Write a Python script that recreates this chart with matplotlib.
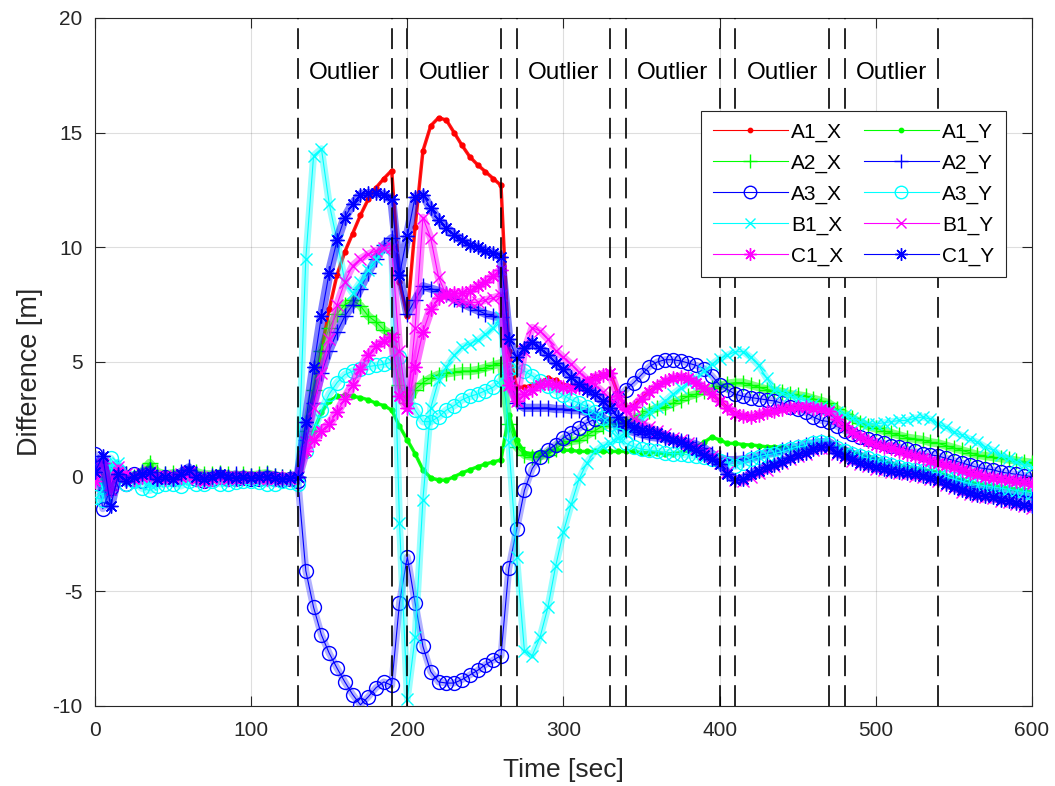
import numpy as np
import matplotlib
matplotlib.use("Agg")
import matplotlib.pyplot as plt

plt.rcParams['font.family'] = ['Liberation Sans', 'DejaVu Sans']
plt.rcParams['lines.scale_dashes'] = False
plt.rcParams['axes.unicode_minus'] = False

# ---------------- data ----------------
time_s = np.arange(0, 601, 5)

A1_X = [0.3, -0.4, 0.2, 0.1, -0.2, 0.0, 0.1, 0.05, 0.0, 0.1,
        0.05, 0.0, 0.1, 0.0, -0.05, 0.0, 0.05, 0.0, -0.05, -0.05,
        0.0, -0.05, -0.05, -0.1, -0.05, -0.05, 0.0, 1.8, 3.7, 5.5,
        7.3, 8.8, 9.8, 10.6, 11.4, 12.1, 12.6, 13.0, 13.35, 8.5,
        7.0, 10.9, 14.2, 15.3, 15.65, 15.55, 15.0, 14.45, 13.95, 13.6,
        13.3, 13.0, 12.7, 5.5, 3.9, 3.9, 4.0, 4.1, 4.3, 4.2,
        4.0, 3.95, 4.0, 4.15, 4.35, 4.45, 4.5, 3.6, 3.0, 3.1,
        3.4, 3.7, 3.95, 4.15, 4.3, 4.35, 4.3, 4.1, 3.85, 3.6,
        3.3, 3.0, 2.75, 2.65, 2.6, 2.7, 2.8, 2.85, 2.95, 3.0,
        3.05, 3.05, 3.0, 2.95, 2.85, 2.5, 2.2, 1.95, 1.75, 1.55,
        1.4, 1.3, 1.25, 1.1, 1.0, 0.9, 0.8, 0.7, 0.58, 0.5,
        0.4, 0.3, 0.18, 0.1, 0.0, -0.05, -0.1, -0.15, -0.2, -0.25,
        -0.3]

A1_Y = [0.2, -0.3, 0.1, 0.3, 0.0, 0.1, 0.2, 0.5, 0.1, 0.0,
        0.1, 0.0, 0.2, 0.1, 0.0, 0.05, 0.1, 0.05, 0.0, 0.05,
        0.0, 0.05, 0.1, 0.0, 0.0, -0.05, 0.0, 1.0, 2.0, 2.8,
        3.3, 3.5, 3.55, 3.5, 3.45, 3.35, 3.2, 3.1, 2.9, 2.2,
        1.6, 1.0, 0.3, -0.05, -0.15, -0.15, 0.0, 0.16, 0.3, 0.43,
        0.55, 0.64, 0.73, 2.7, 1.6, 1.05, 1.0, 1.05, 1.1, 1.15,
        1.15, 1.15, 1.1, 1.1, 1.1, 1.1, 1.1, 1.1, 1.1, 1.1,
        1.05, 1.05, 1.05, 1.0, 1.0, 1.05, 1.15, 1.3, 1.5, 1.73,
        1.6, 1.45, 1.45, 1.4, 1.38, 1.35, 1.3, 1.3, 1.28, 1.25,
        1.25, 1.3, 1.35, 1.4, 1.45, 1.3, 1.15, 1.05, 0.95, 0.85,
        0.75, 0.65, 0.55, 0.45, 0.4, 0.35, 0.3, 0.25, 0.2, 0.05,
        -0.05, -0.15, -0.25, -0.3, -0.35, -0.4, -0.45, -0.5, -0.55, -0.6,
        -0.65]

A2_X = [0.1, -0.2, 0.3, 0.2, 0.1, 0.0, 0.2, 0.6, 0.2, 0.1,
        0.15, 0.1, 0.3, 0.2, 0.1, 0.1, 0.15, 0.1, 0.05, 0.1,
        0.05, 0.1, 0.15, 0.05, 0.0, 0.0, 0.0, 2.0, 3.8, 5.5,
        6.5, 7.1, 7.5, 7.7, 7.45, 7.0, 6.75, 6.4, 6.2, 4.0,
        3.2, 3.8, 4.1, 4.3, 4.45, 4.5, 4.55, 4.6, 4.6, 4.65,
        4.75, 4.85, 4.95, 2.3, 1.3, 0.95, 0.86, 0.9, 0.95, 1.2,
        1.45, 1.55, 1.6, 1.8, 2.0, 2.2, 2.3, 2.35, 2.4, 2.5,
        2.7, 2.85, 3.0, 3.05, 3.2, 3.35, 3.5, 3.6, 3.75, 3.85,
        3.95, 4.05, 4.1, 4.1, 4.0, 3.9, 3.8, 3.75, 3.7, 3.6,
        3.55, 3.5, 3.4, 3.3, 3.2, 2.95, 2.75, 2.55, 2.35, 2.2,
        2.1, 2.0, 1.9, 1.8, 1.7, 1.65, 1.6, 1.5, 1.45, 1.35,
        1.25, 1.15, 1.05, 0.95, 0.9, 0.85, 0.8, 0.75, 0.7, 0.65,
        0.6]

A2_Y = [0.5, -0.6, 0.0, 0.4, 0.1, -0.1, 0.2, 0.3, 0.0, 0.1,
        0.0, 0.2, 0.4, 0.1, 0.0, 0.05, 0.1, 0.0, 0.1, 0.0,
        0.05, 0.0, 0.1, 0.05, 0.0, -0.05, 0.0, 1.6, 3.2, 4.5,
        5.5, 6.3, 7.0, 7.5, 8.2, 8.9, 9.5, 10.1, 10.4, 8.8,
        7.1, 7.7, 8.3, 8.2, 8.1, 7.95, 7.75, 7.55, 7.4, 7.25,
        7.1, 7.0, 6.95, 4.5, 3.2, 3.0, 3.0, 3.0, 3.0, 2.95,
        2.95, 2.9, 2.9, 2.8, 2.7, 2.55, 2.4, 2.2, 2.05, 1.95,
        1.85, 1.75, 1.7, 1.65, 1.6, 1.55, 1.5, 1.4, 1.25, 1.0,
        0.8, 0.72, 0.72, 0.75, 0.8, 0.9, 1.0, 1.05, 1.15, 1.25,
        1.3, 1.4, 1.45, 1.5, 1.5, 1.3, 1.15, 1.0, 0.9, 0.8,
        0.7, 0.6, 0.5, 0.4, 0.35, 0.3, 0.2, 0.1, 0.0, -0.1,
        -0.2, -0.3, -0.4, -0.5, -0.55, -0.6, -0.7, -0.75, -0.8, -0.85,
        -0.9]

A3_X = [1.0, -1.4, -0.5, 0.2, -0.3, 0.1, -0.2, 0.0, -0.1, 0.0,
        -0.1, 0.0, 0.1, -0.1, -0.2, -0.1, 0.0, -0.1, -0.1, -0.05,
        -0.1, -0.1, -0.05, -0.1, -0.15, -0.1, -0.2, -4.1, -5.7, -6.9,
        -7.7, -8.35, -8.95, -9.5, -9.95, -9.6, -9.2, -8.95, -9.1, -5.5,
        -3.5, -5.5, -7.4, -8.5, -8.95, -9.0, -9.0, -8.85, -8.65, -8.45,
        -8.2, -8.0, -7.8, -4.0, -2.3, -0.6, 0.35, 0.85, 1.15, 1.4,
        1.7, 1.9, 2.1, 2.35, 2.5, 2.75, 3.1, 3.45, 3.8, 4.1,
        4.45, 4.8, 5.0, 5.1, 5.1, 5.05, 4.95, 4.85, 4.7, 4.4,
        4.0, 3.8, 3.6, 3.5, 3.45, 3.4, 3.35, 3.3, 3.2, 3.05,
        2.95, 2.8, 2.6, 2.45, 2.4, 2.2, 2.0, 1.85, 1.75, 1.65,
        1.55, 1.45, 1.35, 1.3, 1.2, 1.1, 1.0, 0.95, 0.9, 0.8,
        0.7, 0.6, 0.5, 0.4, 0.35, 0.3, 0.2, 0.15, 0.1, 0.05,
        0.0]

A3_Y = [-0.9, -1.0, 0.8, 0.3, -0.3, -0.2, -0.5, -0.6, -0.4, -0.3,
        -0.3, -0.4, -0.2, -0.3, -0.3, -0.2, -0.3, -0.3, -0.25, -0.2,
        -0.2, -0.25, -0.3, -0.3, -0.2, -0.25, -0.3, 1.1, 2.0, 2.9,
        3.6, 4.1, 4.45, 4.6, 4.7, 4.8, 4.85, 4.9, 5.0, 5.2,
        3.6, 2.9, 2.4, 2.4, 2.6, 2.9, 3.1, 3.35, 3.5, 3.6,
        3.75, 3.9, 4.2, 4.7, 4.8, 4.6, 4.4, 4.15, 3.95, 3.75,
        3.55, 3.35, 3.2, 3.05, 2.8, 2.55, 2.3, 1.8, 1.45, 1.3,
        1.2, 1.15, 1.1, 1.05, 1.0, 1.0, 0.95, 0.9, 0.85, 0.75,
        0.7, 0.55, 0.45, 0.6, 0.75, 0.85, 0.95, 1.0, 1.1, 1.2,
        1.3, 1.35, 1.45, 1.5, 1.45, 1.25, 1.1, 1.0, 0.9, 0.8,
        0.7, 0.6, 0.5, 0.4, 0.35, 0.3, 0.25, 0.2, 0.15, 0.0,
        -0.1, -0.2, -0.3, -0.35, -0.4, -0.45, -0.5, -0.55, -0.6, -0.65,
        -0.7]

B1_X = [0.4, -0.5, 0.5, 0.6, 0.0, -0.1, -0.2, -0.3, -0.2, -0.1,
        -0.2, -0.1, 0.0, -0.1, -0.2, -0.1, -0.1, -0.15, -0.1, -0.1,
        -0.1, -0.1, -0.15, -0.1, -0.1, -0.1, 0.0, 9.5, 14.0, 14.3,
        11.9, 10.3, 8.5, 8.0, 8.5, 9.0, 9.5, 9.9, 10.0, -2.0,
        -9.7, -7.0, -1.0, 3.0, 4.2, 4.8, 5.3, 5.65, 5.8, 5.95,
        6.2, 6.5, 6.95, 1.5, -3.5, -7.6, -7.8, -7.0, -5.7, -3.9,
        -2.4, -1.2, -0.1, 0.6, 1.1, 1.35, 1.45, 1.7, 1.9, 2.15,
        2.5, 2.8, 3.05, 3.3, 3.6, 3.85, 4.1, 4.3, 4.6, 4.9,
        5.15, 5.3, 5.45, 5.45, 5.2, 4.85, 4.3, 3.8, 3.65, 3.55,
        3.4, 3.3, 3.15, 3.05, 2.95, 2.8, 2.7, 2.55, 2.4, 2.3,
        2.3, 2.35, 2.4, 2.45, 2.45, 2.55, 2.6, 2.5, 2.3, 2.15,
        1.95, 1.8, 1.65, 1.5, 1.3, 1.15, 0.95, 0.8, 0.65, 0.5,
        0.4]

B1_Y = [0.3, 0.5, -0.3, 0.4, 0.1, 0.0, 0.1, 0.2, 0.0, 0.05,
        0.0, 0.1, 0.2, 0.0, -0.1, 0.0, 0.05, 0.0, 0.0, 0.0,
        0.0, -0.05, 0.0, -0.05, -0.1, -0.05, 0.0, 1.5, 3.0, 4.5,
        6.0, 7.5, 8.5, 9.2, 9.5, 9.7, 9.85, 9.95, 10.0, 5.5,
        3.0, 6.5, 11.3, 10.4, 8.7, 7.9, 7.7, 7.65, 7.6, 7.6,
        7.7, 7.8, 7.9, 4.0, 3.3, 5.5, 6.5, 6.35, 6.0, 5.5,
        5.2, 4.9, 4.55, 4.25, 4.0, 3.7, 3.4, 3.1, 2.9, 2.5,
        2.3, 2.17, 2.0, 1.85, 1.7, 1.6, 1.45, 1.25, 1.05, 0.9,
        0.6, 0.2, -0.15, -0.2, 0.0, 0.15, 0.3, 0.45, 0.6, 0.75,
        0.9, 1.0, 1.15, 1.25, 1.25, 1.0, 0.85, 0.7, 0.55, 0.45,
        0.35, 0.3, 0.2, 0.15, 0.1, 0.05, 0.0, -0.1, -0.2, -0.35,
        -0.5, -0.65, -0.75, -0.85, -0.9, -0.95, -1.05, -1.1, -1.2, -1.3,
        -1.35]

C1_X = [-0.2, 0.6, -0.6, 0.2, 0.0, -0.1, 0.0, 0.1, -0.1, -0.1,
        -0.1, 0.0, 0.1, -0.1, -0.2, -0.1, 0.0, -0.1, -0.1, -0.05,
        -0.05, -0.05, -0.1, -0.1, -0.05, -0.1, 0.0, 1.1, 1.6, 2.0,
        2.3, 2.8, 3.4, 4.0, 4.7, 5.3, 5.7, 5.9, 6.1, 3.5,
        3.0, 4.8, 6.3, 7.3, 7.8, 7.95, 8.0, 8.0, 8.1, 8.3,
        8.5, 8.75, 9.0, 4.0, 3.3, 3.6, 3.8, 4.0, 4.07, 4.0,
        3.9, 3.85, 3.9, 4.1, 4.3, 4.45, 4.5, 3.5, 2.95, 3.05,
        3.4, 3.7, 3.95, 4.15, 4.3, 4.35, 4.3, 4.1, 3.85, 3.6,
        3.3, 3.0, 2.75, 2.65, 2.6, 2.7, 2.8, 2.85, 2.95, 3.0,
        3.05, 3.05, 3.0, 2.95, 2.85, 2.5, 2.2, 1.95, 1.75, 1.55,
        1.4, 1.3, 1.25, 1.1, 1.0, 0.9, 0.8, 0.7, 0.58, 0.5,
        0.4, 0.3, 0.18, 0.1, 0.0, -0.05, -0.1, -0.15, -0.2, -0.25,
        -0.3]

C1_Y = [0.2, 0.9, -1.3, 0.1, -0.2, 0.0, 0.1, 0.2, -0.1, 0.0,
        -0.1, 0.1, 0.3, 0.0, -0.1, 0.0, 0.1, 0.0, -0.05, 0.0,
        -0.05, 0.0, 0.0, -0.05, -0.1, -0.05, 0.0, 2.4, 4.8, 7.0,
        8.9, 10.3, 11.3, 11.9, 12.3, 12.35, 12.35, 12.3, 12.1, 8.8,
        10.5, 12.2, 12.3, 11.7, 11.2, 10.85, 10.55, 10.3, 10.1, 10.0,
        9.85, 9.75, 9.6, 6.0, 5.2, 5.6, 5.85, 5.6, 5.3, 4.95,
        4.7, 4.35, 4.05, 3.8, 3.6, 3.3, 3.0, 2.6, 2.33, 2.15,
        2.05, 2.0, 1.9, 1.75, 1.6, 1.5, 1.35, 1.15, 0.95, 0.75,
        0.55, 0.1, -0.15, -0.1, 0.1, 0.25, 0.4, 0.5, 0.65, 0.8,
        0.95, 1.05, 1.2, 1.3, 1.3, 1.05, 0.9, 0.75, 0.6, 0.5,
        0.4, 0.35, 0.25, 0.2, 0.15, 0.1, 0.05, -0.05, -0.15, -0.3,
        -0.45, -0.6, -0.7, -0.8, -0.85, -0.9, -1.0, -1.05, -1.15, -1.25,
        -1.3]

outlier_start = [130, 200, 270, 340, 410, 480]
outlier_end = [190, 260, 330, 400, 470, 540]
outlier_label = "Outlier"

x_ticks = [0, 100, 200, 300, 400, 500, 600]
y_ticks = [-10, -5, 0, 5, 10, 15, 20]

# ---------------- figure ----------------
fig = plt.figure(figsize=(10.55, 7.86), dpi=100)
ax = fig.add_axes([0.0900, 0.1018, 0.8882, 0.8753])

asterisk = (8, 2, 0)
# name, values, colour, marker, marker size, band width (pt), band alpha
series = [
    ("A1_X", A1_X, "#ff0000", ".", 7, 2.5, 0.9),
    ("A1_Y", A1_Y, "#00ff00", ".", 7, 2.5, 0.9),
    ("A2_X", A2_X, "#00ff00", "+", 11, 6.0, 0.5),
    ("A2_Y", A2_Y, "#0000ff", "+", 11, 6.0, 0.5),
    ("A3_X", A3_X, "#0000ff", "o", 10, 5.0, 0.3),
    ("A3_Y", A3_Y, "#00ffff", "o", 10, 5.5, 0.4),
    ("B1_X", B1_X, "#00ffff", "x", 8, 5.0, 0.4),
    ("B1_Y", B1_Y, "#ff00ff", "x", 8, 5.5, 0.45),
    ("C1_X", C1_X, "#ff00ff", asterisk, 10, 6.5, 0.55),
    ("C1_Y", C1_Y, "#0000ff", asterisk, 10, 6.5, 0.5),
]

handles = {}
for name, vals, col, mk, ms, bw, ba in series:
    # dense-marker band look of the original
    ax.plot(time_s, vals, color=col, lw=bw, alpha=ba, solid_capstyle='round',
            solid_joinstyle='round', zorder=3)
    h, = ax.plot(time_s, vals, color=col, lw=0.8, marker=mk, ms=ms,
                 mew=1.0, mfc='none' if mk == 'o' else col, mec=col,
                 label=name, zorder=3)
    handles[name] = h

# outlier boundaries and labels
for s, e in zip(outlier_start, outlier_end):
    for xv in (s, e):
        ax.axvline(xv, color='black', lw=1.2, linestyle=(0, (15, 6.5)), zorder=4)
    ax.text((s + e) / 2, 17.6, outlier_label, ha='center', va='center',
            fontsize=17.5, color='black', zorder=5)

ax.set_xlim(0, 600)
ax.set_ylim(-10, 20)
ax.set_xticks(x_ticks)
ax.set_yticks(y_ticks)
ax.grid(True, color='#262626', alpha=0.15, lw=0.8)
ax.set_axisbelow(True)
ax.tick_params(direction='in', length=7, width=0.8, top=True, right=True,
               labelsize=15, colors='#262626')
ax.tick_params(axis='x', pad=11)
ax.tick_params(axis='y', pad=9)
for sp in ax.spines.values():
    sp.set_color('#262626')
    sp.set_linewidth(0.8)

ax.set_xlabel("Time [sec]", fontsize=19, color='#262626', labelpad=13)
ax.set_ylabel("Difference [m]", fontsize=19.5, color='#262626')
ax.yaxis.set_label_coords(-0.055, 0.485)

order = ["A1_X", "A1_Y", "A2_X", "A2_Y", "A3_X", "A3_Y", "B1_X", "B1_Y", "C1_X", "C1_Y"]
col_major = order[0::2] + order[1::2]
leg = ax.legend([handles[n] for n in col_major], col_major, ncol=2,
                loc='upper left', bbox_to_anchor=(0.6468, 0.8648),
                borderaxespad=0, fontsize=15, handlelength=3.6,
                handletextpad=0.15, columnspacing=1.0, labelspacing=0.56,
                borderpad=0.56, frameon=True, fancybox=False, framealpha=1,
                edgecolor='#262626', markerscale=0.9)
leg.get_frame().set_linewidth(0.8)
leg.set_zorder(10)

fig.savefig("out.png", dpi=100)
